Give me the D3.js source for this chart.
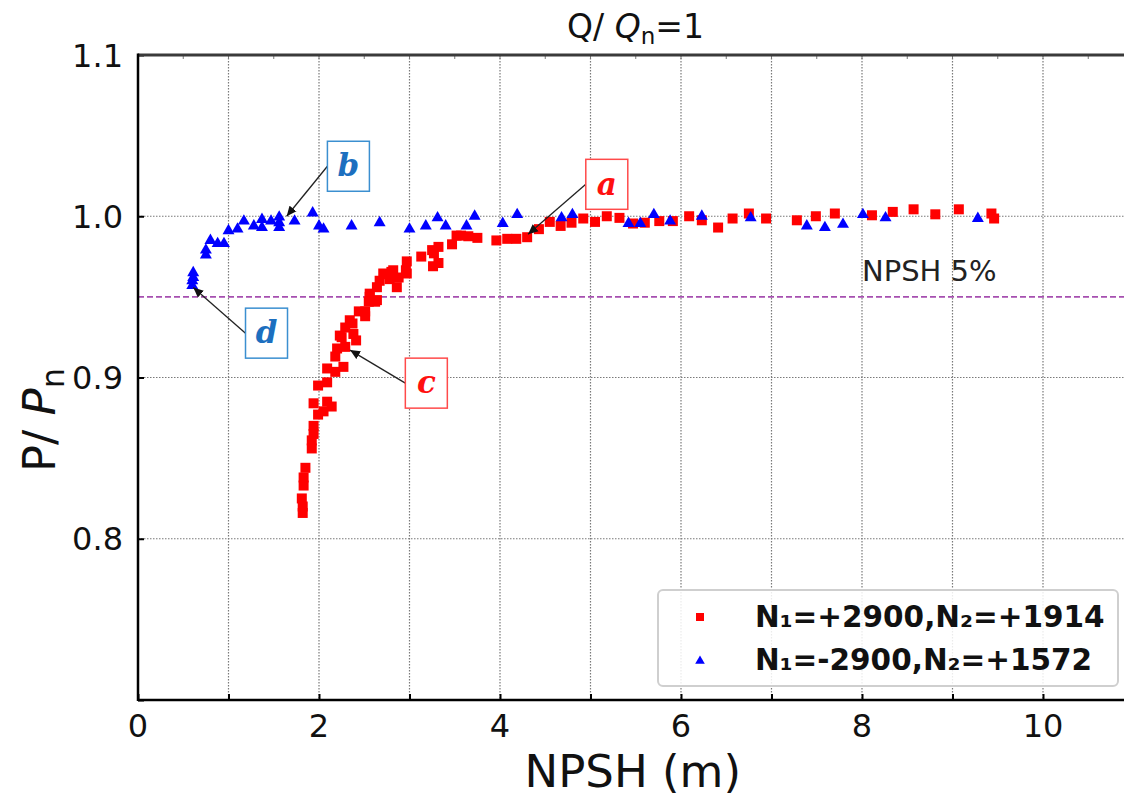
<!DOCTYPE html>
<html>
<head>
<meta charset="utf-8">
<script src="https://cdn.jsdelivr.net/npm/d3@7"></script>
<style>
  html, body { margin: 0; padding: 0; background: #fff; }
  svg { display: block; font-family: "DejaVu Sans", sans-serif; }
</style>
</head>
<body>
<svg id="chart" width="1124" height="801"></svg>
<script>
// ---------------- data ----------------
const redX = [1.82,1.82,1.81,1.83,1.83,1.85,1.92,1.92,1.94,1.94,1.99,2.05,2.14,2.09,1.94,1.99,2.09,2.18,2.09,2.27,2.18,2.20,2.29,2.41,2.25,2.23,2.29,2.38,2.37,2.34,2.44,2.51,2.51,2.55,2.62,2.56,2.56,2.64,2.64,2.67,2.71,2.78,2.82,2.86,2.88,2.75,2.80,2.97,2.97,2.96,3.13,3.26,3.32,3.27,3.25,3.32,3.47,3.52,3.57,3.65,3.75,3.96,4.08,4.18,4.30,4.43,4.55,4.67,4.79,4.92,5.05,5.18,5.32,5.47,5.60,5.76,5.91,6.09,6.23,6.41,6.57,6.75,6.94,7.28,7.49,7.70,8.11,8.34,8.57,8.81,9.07,9.43,9.46];
const redY = [0.816,0.820,0.825,0.833,0.838,0.844,0.856,0.861,0.865,0.870,0.877,0.879,0.882,0.885,0.884,0.895,0.897,0.9035,0.9056,0.9066,0.913,0.918,0.919,0.923,0.925,0.926,0.931,0.927,0.9335,0.9355,0.941,0.938,0.941,0.947,0.947,0.952,0.950,0.948,0.956,0.960,0.9645,0.961,0.9665,0.956,0.962,0.964,0.9655,0.9645,0.972,0.9665,0.975,0.969,0.971,0.977,0.979,0.981,0.9826,0.988,0.988,0.9876,0.9866,0.985,0.986,0.986,0.987,0.992,0.9965,0.994,0.996,0.9986,0.9965,1.0,0.999,0.9955,0.996,0.997,0.997,1.0,0.9975,0.993,0.9986,1.0017,0.9986,0.9975,1.0,1.0017,1.0006,1.0027,1.0043,1.0012,1.0043,1.0017,0.9986];

const blueX = [0.60,0.60,0.61,0.61,0.75,0.75,0.80,0.88,0.95,1.00,1.10,1.17,1.28,1.37,1.37,1.47,1.56,1.56,1.56,1.73,1.93,2.00,2.05,2.36,2.67,3.00,3.18,3.31,3.40,3.63,3.72,4.03,4.19,4.68,4.80,5.42,5.55,5.70,5.88,6.23,6.77,7.39,7.59,7.79,8.01,8.26,9.28];
const blueY = [0.957,0.960,0.962,0.965,0.976,0.979,0.985,0.983,0.983,0.991,0.992,0.997,0.994,0.998,0.993,0.997,0.9995,0.993,0.996,0.997,1.002,0.994,0.992,0.994,0.996,0.992,0.994,0.999,0.994,0.994,1.0,0.9955,1.001,0.999,1.001,0.9955,0.9955,1.001,0.997,1.0,0.999,0.994,0.993,0.995,1.001,0.999,0.9986];

const seriesNames = ["N\u2081=+2900,N\u2082=+1914", "N\u2081=-2900,N\u2082=+1572"];
const xTickLabels = [0, 2, 4, 6, 8, 10];
const xGrid = [1, 2, 3, 4, 5, 6, 7, 8, 9, 10, 11];
const yTickLabels = [0.8, 0.9, 1.0, 1.1];
const yGrid = [0.8, 0.9, 1.0];
const npsh5 = 0.95;

// annotations: label, target point (data), box centre (data)
const annLabels = ["a", "b", "c", "d"];
const annTargetX = [4.31, 1.643, 2.343, 0.611];
const annTargetY = [0.9888, 1.0, 0.917, 0.9558];
const annBoxX = [5.18, 2.325, 3.186, 1.42];
const annBoxY = [1.0198, 1.031, 0.8965, 0.9275];
const annColor = ["red", "blue", "red", "blue"];

// ---------------- layout ----------------
const svg = d3.select("#chart");
const L = 138, T = 55, B = 700;
const x = d3.scaleLinear().domain([0, 11]).range([L, L + 11 * 90.5]);
const y = d3.scaleLinear().domain([0.7, 1.1]).range([B, T]);

const gridG = svg.append("g");
gridG.selectAll("line.vg").data(xGrid).join("line")
  .attr("x1", d => x(d)).attr("x2", d => x(d))
  .attr("y1", T).attr("y2", B)
  .attr("stroke", "#7a7a7a").attr("stroke-width", 1.2).attr("stroke-dasharray", "1.5,1.5");
gridG.selectAll("line.hg").data(yGrid).join("line")
  .attr("x1", L).attr("x2", 1124)
  .attr("y1", d => y(d)).attr("y2", d => y(d))
  .attr("stroke", "#7a7a7a").attr("stroke-width", 1.2).attr("stroke-dasharray", "1.5,1.5");

// NPSH 5% line
svg.append("line")
  .attr("x1", L).attr("x2", 1124)
  .attr("y1", y(npsh5)).attr("y2", y(npsh5))
  .attr("stroke", "#a64fb0").attr("stroke-width", 1.8).attr("stroke-dasharray", "6,3");
svg.append("text").attr("x", 862).attr("y", 281)
  .attr("font-size", 29).attr("fill", "#222").text("NPSH 5%");

// axes (ticks inward)
const xAxis = d3.axisBottom(x).tickValues(xGrid.filter(d => d <= 10).concat([0])).tickSize(-6).tickFormat(() => "");
svg.append("g").attr("transform", `translate(0,${B})`).call(xAxis)
  .call(g => g.select(".domain").remove())
  .call(g => g.selectAll("line").attr("stroke", "#000").attr("stroke-width", 2));
const yAxis = d3.axisLeft(y).tickValues([0.7, 0.8, 0.9, 1.0, 1.1]).tickSize(-6).tickFormat(() => "");
svg.append("g").attr("transform", `translate(${L},0)`).call(yAxis)
  .call(g => g.select(".domain").remove())
  .call(g => g.selectAll("line").attr("stroke", "#000").attr("stroke-width", 2));
const topTicks = d3.range(0.5, 11, 0.5);
svg.append("g").selectAll("line").data(topTicks).join("line")
  .attr("x1", d => x(d)).attr("x2", d => x(d))
  .attr("y1", T).attr("y2", T + 4)
  .attr("stroke", "#777").attr("stroke-width", 1);

// tick labels
svg.append("g").selectAll("text").data(xTickLabels).join("text")
  .attr("x", d => x(d)).attr("y", 737)
  .attr("text-anchor", "middle").attr("font-size", 32).attr("fill", "#111")
  .text(d => d);
svg.append("g").selectAll("text").data(yTickLabels).join("text")
  .attr("x", 123).attr("y", d => y(d)).attr("dy", "0.36em")
  .attr("text-anchor", "end").attr("font-size", 32).attr("fill", "#111")
  .text(d => d.toFixed(1));

// spines
svg.append("line").attr("x1", L).attr("x2", 1124).attr("y1", T).attr("y2", T)
  .attr("stroke", "#3a3a3a").attr("stroke-width", 3);
svg.append("line").attr("x1", L).attr("x2", L).attr("y1", T - 1.5).attr("y2", B + 1)
  .attr("stroke", "#000").attr("stroke-width", 2.5);
svg.append("line").attr("x1", L).attr("x2", 1124).attr("y1", B).attr("y2", B)
  .attr("stroke", "#000").attr("stroke-width", 2.5);

// data
const redData = redX.map((v, i) => [v, redY[i]]);
const blueData = blueX.map((v, i) => [v, blueY[i]]);
const sq = 10;
svg.append("g").selectAll("rect").data(redData).join("rect")
  .attr("x", d => x(d[0]) - sq / 2).attr("y", d => y(d[1]) - sq / 2)
  .attr("width", sq).attr("height", sq).attr("fill", "#ff0000");
const tri = d3.symbol().type(d3.symbolTriangle).size(62);
svg.append("g").selectAll("path").data(blueData).join("path")
  .attr("d", tri).attr("transform", d => `translate(${x(d[0])},${y(d[1])})`)
  .attr("fill", "#0000ff");

// arrowhead
const defs = svg.append("defs");
defs.append("marker").attr("id", "arr").attr("viewBox", "0 0 10 10")
  .attr("refX", 10).attr("refY", 5).attr("markerWidth", 10).attr("markerHeight", 10)
  .attr("markerUnits", "userSpaceOnUse").attr("orient", "auto")
  .append("path").attr("d", "M0,0.5 L10,5 L0,9.5 Z").attr("fill", "#111");

const bw = 42, bh = 50;
annLabels.forEach((lab, i) => {
  const cx = x(annBoxX[i]), cy = y(annBoxY[i]);
  const isRed = annColor[i] === "red";
  svg.append("line")
    .attr("x1", cx - bw / 2).attr("y1", cy)
    .attr("x2", x(annTargetX[i])).attr("y2", y(annTargetY[i]))
    .attr("stroke", "#222").attr("stroke-width", 1.3).attr("marker-end", "url(#arr)");
  svg.append("rect").attr("x", cx - bw / 2).attr("y", cy - bh / 2)
    .attr("width", bw).attr("height", bh).attr("fill", "#fff")
    .attr("stroke", isRed ? "#ff4a4a" : "#3b8fd0").attr("stroke-width", 1.5);
  svg.append("text").attr("x", cx).attr("y", cy).attr("dy", "0.33em")
    .attr("text-anchor", "middle").attr("font-family", "'DejaVu Serif', serif")
    .attr("font-style", "italic").attr("font-weight", "bold").attr("font-size", 31)
    .attr("fill", isRed ? "#ff1010" : "#1c6fbf").text(lab);
});

// legend
const lg = svg.append("g");
lg.append("rect").attr("x", 658).attr("y", 590).attr("width", 460).attr("height", 96)
  .attr("rx", 5).attr("fill", "#fff").attr("fill-opacity", 0.85)
  .attr("stroke", "#cfcfcf").attr("stroke-width", 2);
lg.append("rect").attr("x", 700 - 4).attr("y", 617 - 4).attr("width", 8).attr("height", 8).attr("fill", "#ff0000");
lg.append("path").attr("d", d3.symbol().type(d3.symbolTriangle).size(40))
  .attr("transform", "translate(700,661)").attr("fill", "#0000ff");
lg.selectAll("text").data(seriesNames).join("text")
  .attr("x", 755).attr("y", (d, i) => 627 + i * 43)
  .attr("font-size", 29.5).attr("font-weight", "bold").attr("fill", "#111")
  .text(d => d);

// title
const title = svg.append("text").attr("x", 635.5).attr("y", 38)
  .attr("text-anchor", "middle").attr("font-size", 33).attr("fill", "#111");
title.append("tspan").text("Q/ ");
title.append("tspan").attr("font-style", "italic").text("Q");
title.append("tspan").attr("font-size", 23).attr("dy", 6).text("n");
title.append("tspan").attr("dy", -6).text("=1");

// axis labels
svg.append("text").attr("x", x(5.5) - 3).attr("y", 787)
  .attr("text-anchor", "middle").attr("font-size", 45).attr("fill", "#111")
  .text("NPSH (m)");
const yl = svg.append("text").attr("transform", "translate(55,420) rotate(-90)")
  .attr("text-anchor", "middle").attr("font-size", 45).attr("fill", "#111");
yl.append("tspan").text("P/ ");
yl.append("tspan").attr("font-style", "italic").text("P");
yl.append("tspan").attr("font-size", 32).attr("dy", 9).text("n");
</script>
</body>
</html>
